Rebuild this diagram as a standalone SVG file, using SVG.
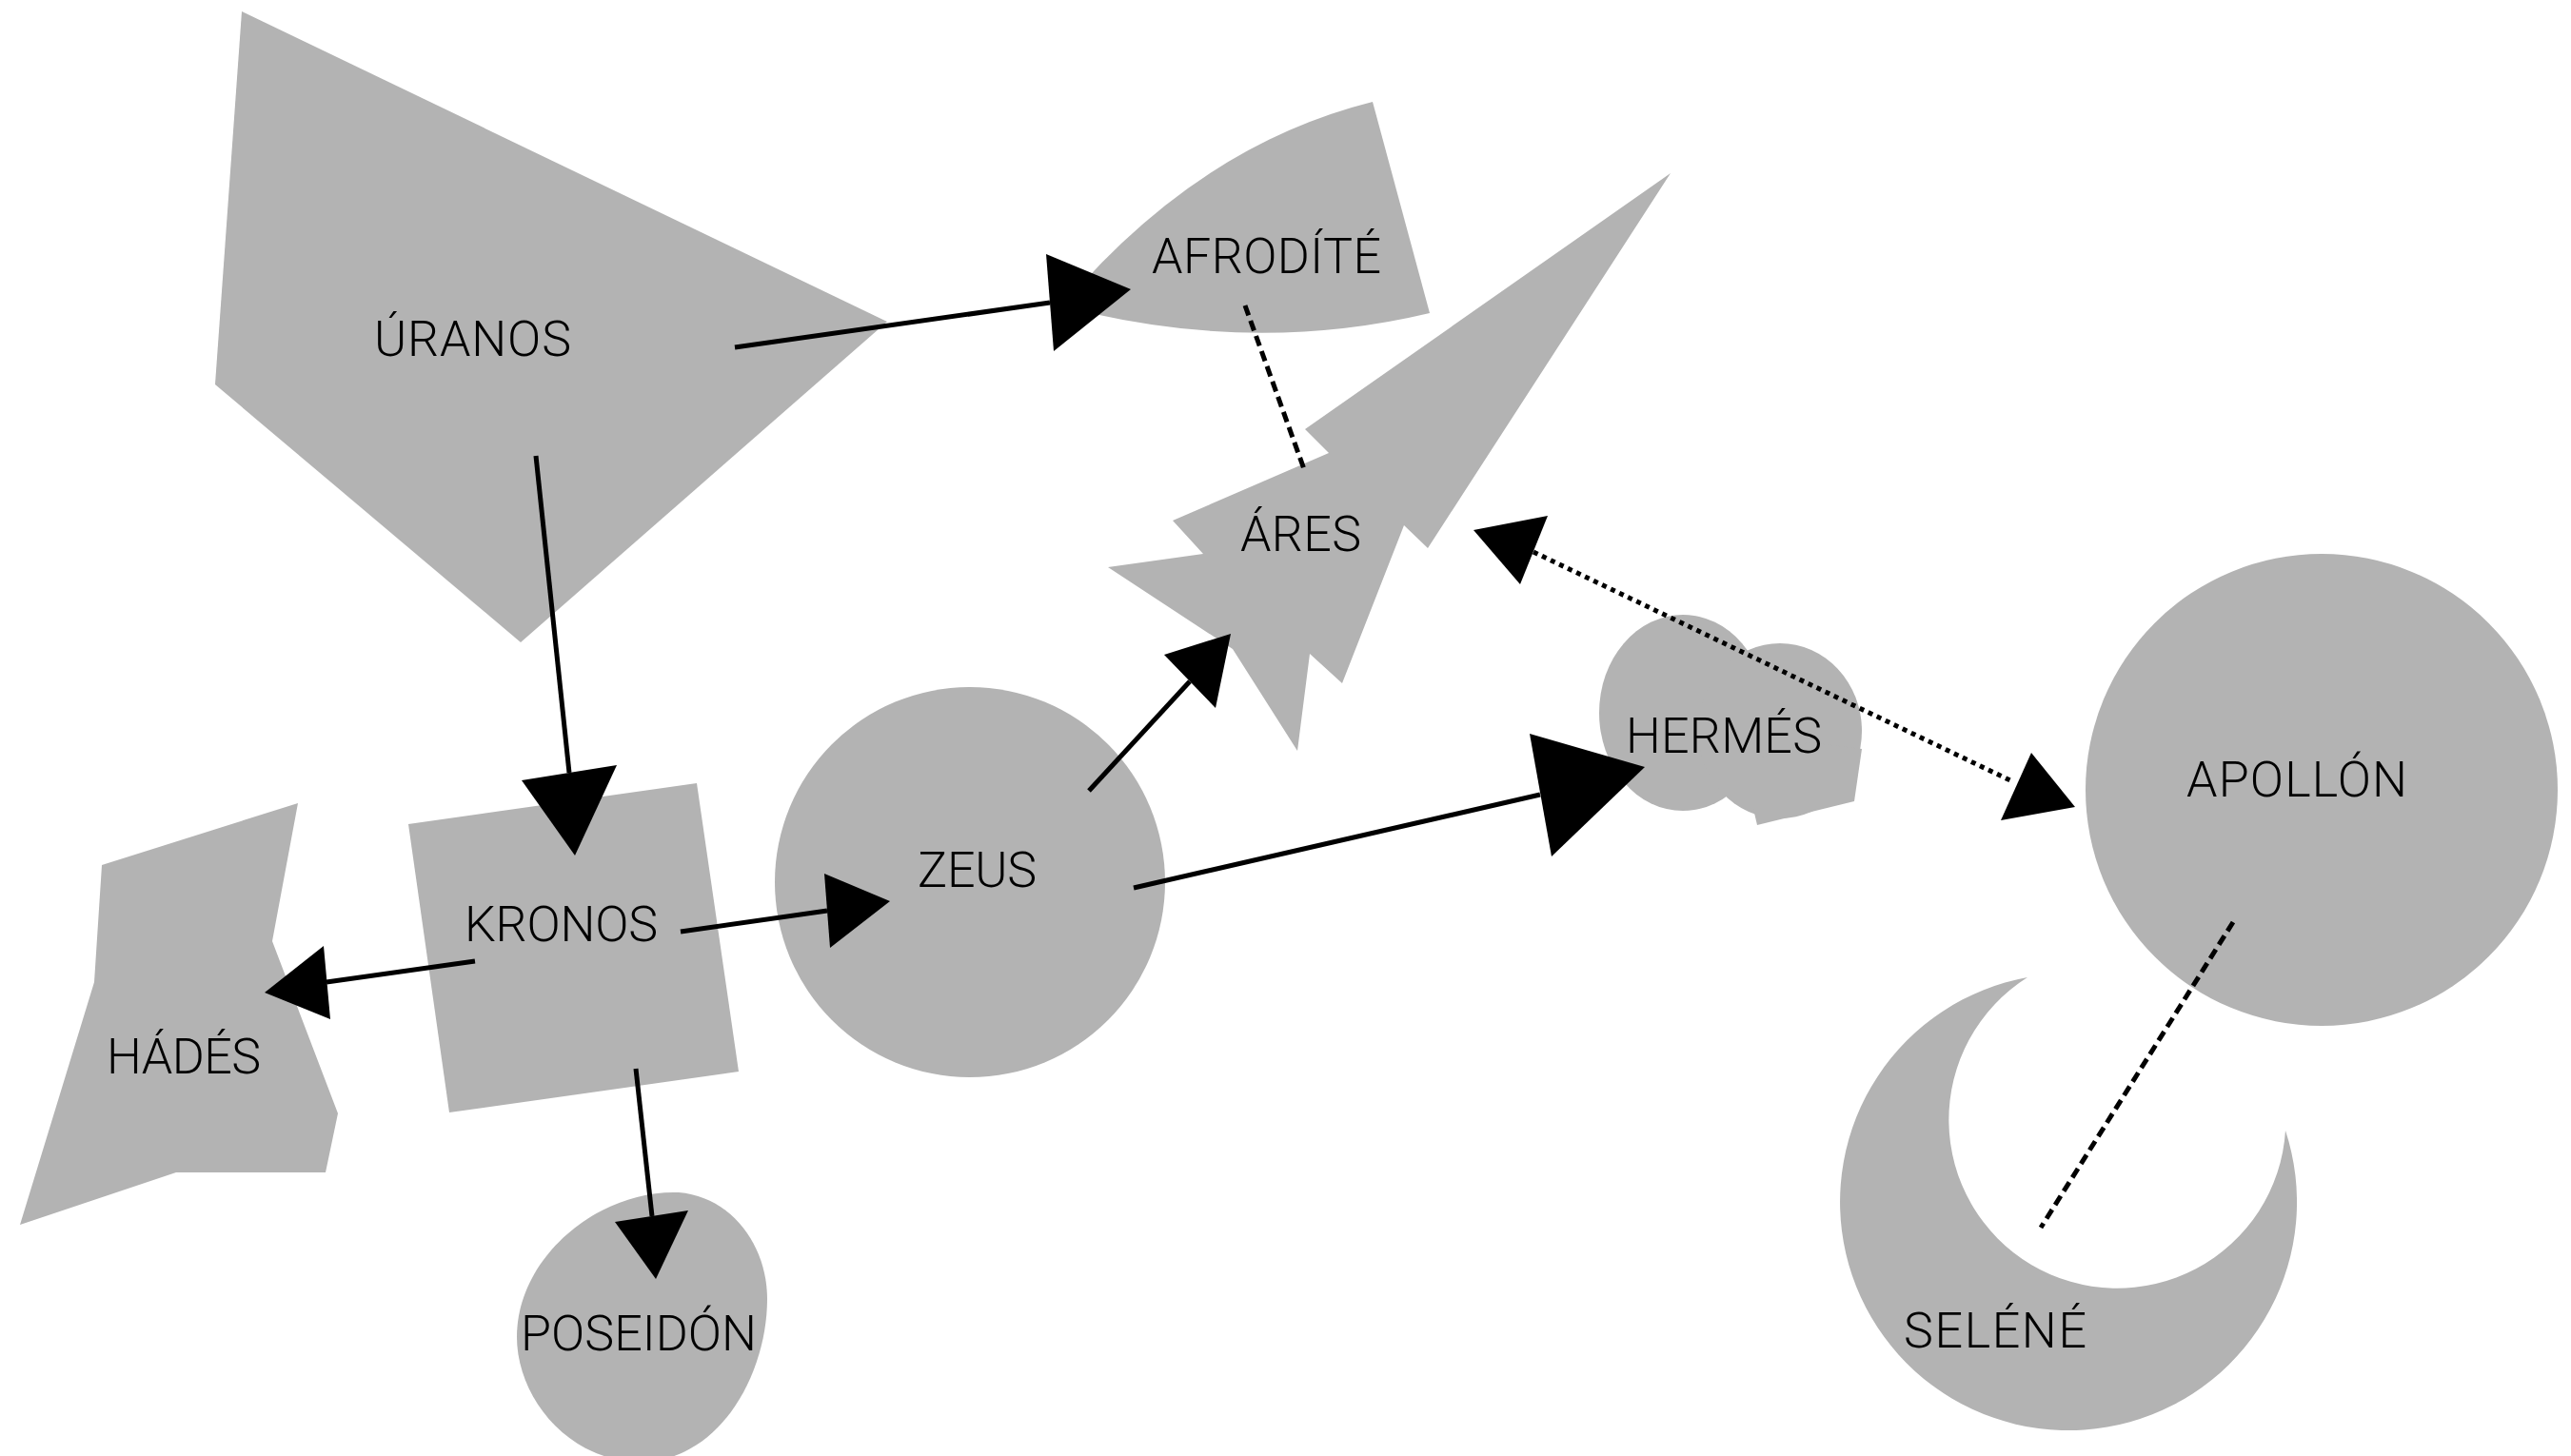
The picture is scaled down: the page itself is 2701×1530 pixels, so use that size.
<svg xmlns="http://www.w3.org/2000/svg" width="2701" height="1530" viewBox="0 0 2701 1530">
<style>
.shape{fill:#b3b3b3;stroke:none}
.label{font-family:Roboto,"Liberation Sans",sans-serif;font-weight:300;font-size:52px;fill:#000}
.line{fill:none;stroke:#000;stroke-width:5}
.dashed{fill:none;stroke:#000;stroke-width:5;stroke-dasharray:11 6}
.dotted{fill:none;stroke:#000;stroke-width:5;stroke-dasharray:5 5}
.head{fill:#000;stroke:none}
</style>
<rect width="2701" height="1530" fill="#fff"/>
<g id="node-uranos">
<polygon class="shape" points="254,12 932,338 547,675 226,404"/>
<text class="label" x="393" y="374" textLength="207" lengthAdjust="spacing">ÚRANOS</text>
</g>
<g id="node-afrodite">
<path class="shape" d="M1135,300 Q1270,150 1442,107 L1502,329 Q1330,370 1150,330 Z"/>
<text class="label" x="1210" y="287" textLength="241" lengthAdjust="spacing">AFRODÍTÉ</text>
</g>
<g id="node-ares">
<polygon class="shape" points="1755,182 1500,576 1475,552 1410,718 1376,687 1363,789 1295,682 1164,596 1264,582 1232,547 1396,476 1371,451"/>
<text class="label" x="1303" y="579" textLength="127" lengthAdjust="spacing">ÁRES</text>
</g>
<g id="node-kronos">
<polygon class="shape" points="429,866 732,823 776,1126 472,1169"/>
<text class="label" x="488" y="989" textLength="203" lengthAdjust="spacing">KRONOS</text>
</g>
<g id="node-hades">
<polygon class="shape" points="107,909 313,844 286,989 355,1170 342,1232 185,1232 21,1287 99,1032"/>
<text class="label" x="112" y="1128" textLength="162" lengthAdjust="spacing">HÁDÉS</text>
</g>
<g id="node-poseidon">
<path class="shape" d="M713,1253 C770,1258 806,1310 806,1365 C806,1440 760,1530 680,1536 C600,1540 543,1470 543,1405 C543,1320 630,1250 713,1253 Z"/>
<text class="label" x="547" y="1419" textLength="248" lengthAdjust="spacing">POSEIDÓN</text>
</g>
<g id="node-zeus">
<circle class="shape" cx="1019" cy="927" r="205"/>
<text class="label" x="964" y="932" textLength="125" lengthAdjust="spacing">ZEUS</text>
</g>
<g id="node-hermes">
<ellipse class="shape" cx="1768" cy="749" rx="88" ry="103"/>
<ellipse class="shape" cx="1870" cy="768" rx="86" ry="92"/>
<polygon class="shape" points="1839,800 1839,837 1846,867 1948,842 1956,787 1900,780"/>
<text class="label" x="1708" y="791" textLength="206" lengthAdjust="spacing">HERMÉS</text>
</g>
<g id="node-apollon">
<circle class="shape" cx="2439" cy="830" r="248"/>
<text class="label" x="2297" y="837" textLength="232" lengthAdjust="spacing">APOLLÓN</text>
</g>
<g id="node-selene">
<path class="shape" d="M2130,1027 A240,240 0 1 0 2401,1188 A177,177 0 1 1 2130,1027 Z"/>
<text class="label" x="2000" y="1416" textLength="192" lengthAdjust="spacing">SELÉNÉ</text>
</g>
<g id="connectors">
<line class="line" x1="772" y1="365" x2="1103" y2="318"/>
<polygon class="head" points="1099,267 1188,304 1107,369"/>
<line class="line" x1="563" y1="479" x2="598" y2="812"/>
<polygon class="head" points="548,820 648,804 604,899"/>
<line class="line" x1="715" y1="979" x2="869" y2="957"/>
<polygon class="head" points="866,918 935,947 872,996"/>
<line class="line" x1="499" y1="1010" x2="343" y2="1032"/>
<polygon class="head" points="340,994 278,1043 347,1071"/>
<line class="line" x1="668" y1="1123" x2="685" y2="1278"/>
<polygon class="head" points="646,1284 723,1272 689,1344"/>
<line class="line" x1="1144" y1="831" x2="1250" y2="716"/>
<polygon class="head" points="1223,688 1293,666 1277,744"/>
<line class="line" x1="1191" y1="933" x2="1618" y2="835"/>
<polygon class="head" points="1607,771 1728,806 1630,900"/>
<line class="dashed" x1="1308" y1="321" x2="1370" y2="493"/>
<line class="dotted" x1="1611" y1="580" x2="2116" y2="822"/>
<polygon class="head" points="1626,542 1548,557 1597,614"/>
<polygon class="head" points="2134,791 2180,848 2102,862"/>
<line class="dashed" x1="2346" y1="969" x2="2144" y2="1290"/>
</g>
</svg>
